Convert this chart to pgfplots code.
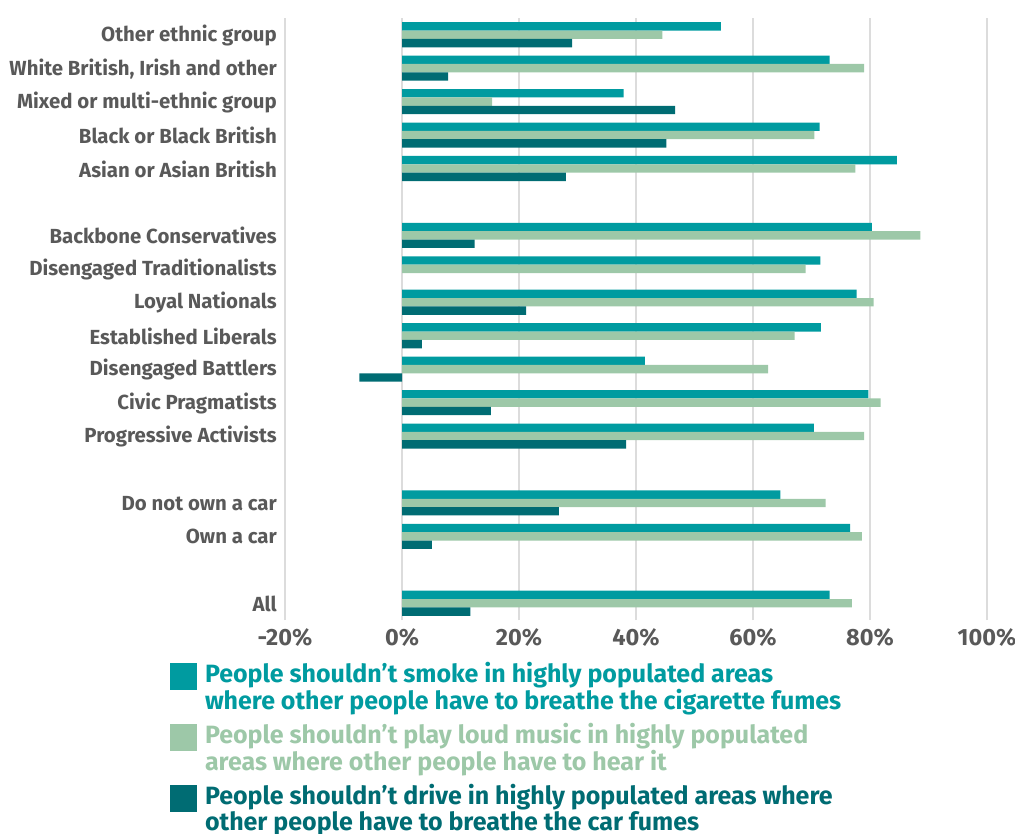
\documentclass[border=0pt]{standalone}
\usepackage{pgfplots}
\pgfplotsset{compat=1.18}
\usepackage{pgfplotstable}
\usepackage{fontspec}
\setmainfont{Fira Sans}
\definecolor{cA}{RGB}{0,155,160}
\definecolor{cB}{RGB}{157,200,168}
\definecolor{cC}{RGB}{0,108,115}
\definecolor{lab}{RGB}{89,89,89}
\definecolor{grd}{RGB}{220,220,220}
\newcommand\LegTxt[3]{\raisebox{22.5pt}[22pt][24pt]{\parbox[t]{690pt}{\raggedright\color{#1}#2\\#3}}}

\pgfplotstableread{
y A B C
17 54.5 44.5 29.1
16 73.1 79.0 7.9
15 37.9 15.4 46.7
14 71.4 70.5 45.2
13 84.6 77.5 28.0
11 80.3 88.6 12.4
10 71.5 69.0 nan
9 77.7 80.6 21.2
8 71.6 67.1 3.4
7 41.5 62.6 -7.3
6 79.7 81.8 15.2
5 70.4 79.0 38.3
3 64.7 72.4 26.8
2 76.6 78.6 5.1
0 73.1 76.9 11.7
}\data

\begin{document}
\begin{tikzpicture}
\begin{axis}[
  at={(285pt,213pt)}, anchor=south west,
  scale only axis, width=702pt, height=602pt,
  xmin=-20, xmax=100, ymin=-0.5, ymax=17.5,
  xbar, bar width=0.25,
  axis line style={draw=none}, major tick length=0pt,
  xtick={-20,0,20,40,60,80,100},
  xticklabels={-20\%,0\%,20\%,40\%,60\%,80\%,100\%},
  ytick={0,2,3,5,6,7,8,9,10,11,13,14,15,16,17},
  yticklabels={All,Own a car,Do not own a car,Progressive Activists,Civic Pragmatists,Disengaged Battlers,Established Liberals,Loyal Nationals,Disengaged Traditionalists,Backbone Conservatives,Asian or Asian British,Black or Black British,Mixed or multi-ethnic group,{White British, Irish and other},Other ethnic group},
  xmajorgrids, major grid style={grd, line width=1.5pt},
  xticklabel style={font=\fontsize{23.5}{24}\selectfont\bfseries, text=lab, anchor=north, inner sep=0pt, yshift=-8pt},
  yticklabel style={font=\fontsize{20.4}{21}\selectfont\bfseries, text=lab, anchor=east, inner sep=0pt, xshift=-8pt, yshift=-0.5pt},
  legend style={at={(axis description cs:-0.1638,-0.0714)}, anchor=north west, draw=none, fill=none,
    inner sep=0pt, outer sep=0pt, row sep=0pt, column sep=8pt,
    cells={anchor=base west}, nodes={anchor=base west, inner sep=0pt},
    font=\fontsize{25}{24}\selectfont\bfseries},
  legend image code/.code={\fill[#1] (0pt,-5pt) rectangle (27pt,22pt); \path[draw=none,fill=none] (13pt,-39pt) rectangle (14pt,-38pt);},
]
\addplot[fill=cA, draw=none, bar shift=0.25] table[x=A,y=y]{\data};
\addlegendentry{\LegTxt{cA}{People shouldn’t smoke in highly populated areas}{where other people have to breathe the cigarette fumes}}
\addplot[fill=cB, draw=none, bar shift=0] table[x=B,y=y]{\data};
\addlegendentry{\LegTxt{cB}{People shouldn’t play loud music in highly populated}{areas where other people have to hear it}}
\addplot[fill=cC, draw=none, bar shift=-0.25] table[x=C,y=y]{\data};
\addlegendentry{\LegTxt{cC}{People shouldn’t drive in highly populated areas where}{other people have to breathe the car fumes}}
\end{axis}
\pgfresetboundingbox
\useasboundingbox (0,0) rectangle (1015pt,833pt);
\end{tikzpicture}
\end{document}
